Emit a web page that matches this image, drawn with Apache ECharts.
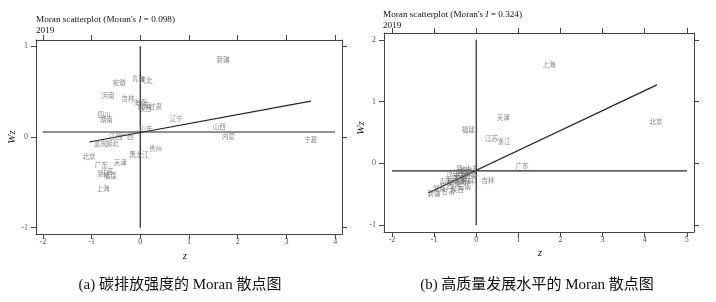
<!DOCTYPE html>
<html>
<head>
<meta charset="utf-8">
<script src="https://cdn.jsdelivr.net/npm/echarts@6/dist/echarts.min.js"></script>
<style>html,body{margin:0;padding:0;background:#fff}#c{width:716px;height:302px}</style>
</head>
<body>
<div id="c"></div>
<script>
// ---- Panel (a): carbon emission intensity ----
const namesA = ['新疆','青海','河北','安徽','河南','吉林','海南','云南','甘肃','陕西','四川','湖南','辽宁','山东','山西','内蒙','宁夏','江西','广西','重庆','湖北','北京','广东','天津','黑龙江','贵州','浙江','江苏','福建','上海'];
const zA  = [1.70,-0.04,0.12,-0.43,-0.66,-0.25,0.00,0.07,0.31,0.10,-0.74,-0.70,0.74,0.12,1.62,1.81,3.50,-0.51,-0.27,-0.82,-0.58,-1.05,-0.80,-0.41,-0.02,0.31,-0.76,-0.68,-0.62,-0.76];
const wzA = [0.85,0.65,0.62,0.60,0.46,0.42,0.38,0.35,0.34,0.31,0.25,0.19,0.20,0.09,0.11,0.00,-0.03,0.01,0.01,-0.07,-0.07,-0.22,-0.30,-0.28,-0.19,-0.13,-0.40,-0.38,-0.43,-0.57];
const meanLineA = [[-2,0.055],[4,0.055]];
const zeroLineA = [[0,-1],[0,1]];
const regLineA  = [[-1.05,-0.055],[3.5,0.395]];
const ticksXA = [-2,-1,0,1,2,3,4];
const ticksYA = [-1,0,1];
const rangeXA = [-2.14,4.14];
const rangeYA = [-1.07,1.07];

// ---- Panel (b): high-quality development level ----
const namesB = ['上海','北京','天津','福建','江苏','浙江','广东','吉林','山东','青海','新疆','甘肃','陕西','云南','贵州','宁夏','河北','山西','内蒙','辽宁','黑龙江','安徽','江西','河南','湖北','湖南','广西','海南','重庆','四川'];
const zB  = [1.73,4.27,0.64,-0.19,0.36,0.66,1.09,0.28,-0.10,-0.73,-1.00,-0.66,-0.45,-0.28,-0.22,-0.35,-0.30,-0.45,-0.15,-0.55,-0.20,-0.38,-0.60,-0.52,-0.25,-0.88,-0.70,-0.40,-0.12,-0.32];
const wzB = [1.60,0.68,0.75,0.55,0.41,0.35,-0.03,-0.27,-0.08,-0.29,-0.48,-0.45,-0.42,-0.37,-0.30,-0.25,-0.15,-0.14,-0.20,-0.20,-0.26,-0.20,-0.26,-0.32,-0.12,-0.40,-0.36,-0.30,-0.15,-0.09];
const meanLineB = [[-2,-0.12],[5,-0.12]];
const zeroLineB = [[0,-1],[0,2]];
const regLineB  = [[-1.14,-0.48],[4.29,1.27]];
const ticksXB = [-2,-1,0,1,2,3,4,5];
const ticksYB = [-1,0,1,2];
const rangeXB = [-2.19,5.17];
const rangeYB = [-1.11,2.11];

const serif = "'Liberation Serif','DejaVu Serif','Noto Sans CJK SC',serif";
const axisCol = '#444';

function xAx(grid, range, ticks, pos) {
  return {
    type:'value', gridIndex:grid, position:pos, min:range[0], max:range[1],
    axisLine:{show:true, onZero:false, lineStyle:{color:axisCol, width:1}},
    axisTick:{show:true, inside:false, length:5, customValues:ticks, lineStyle:{color:axisCol}},
    axisLabel:{show:pos==='bottom', customValues:ticks, fontSize:8, color:'#555', margin:4, fontFamily:serif},
    splitLine:{show:false}
  };
}
function yAx(grid, range, ticks, pos) {
  return {
    type:'value', gridIndex:grid, position:pos, min:range[0], max:range[1],
    axisLine:{show:true, onZero:false, lineStyle:{color:axisCol, width:1}},
    axisTick:{show:true, inside:false, length:5, customValues:ticks, lineStyle:{color:axisCol}},
    axisLabel:{show:pos==='left', customValues:ticks, fontSize:8, color:'#555', margin:8, fontFamily:serif},
    splitLine:{show:false}
  };
}
function pts(names, z, wz) {
  return names.map((n,i)=>({name:n, value:[z[i], wz[i]]}));
}
function labelSeries(idx, names, z, wz) {
  return {
    type:'scatter', xAxisIndex:idx, yAxisIndex:idx, symbolSize:1,
    itemStyle:{color:'rgba(0,0,0,0)'}, data:pts(names,z,wz), z:5,
    label:{show:true, position:'inside', formatter:'{b}', fontSize:6.5, color:'#6a6a6a',
           fontFamily:"'Noto Sans CJK SC',sans-serif"},
    labelLayout:{hideOverlap:false}
  };
}
function lineSeries(idx, data) {
  return {type:'line', xAxisIndex:idx, yAxisIndex:idx, data:data, symbol:'none',
          lineStyle:{color:'#222', width:1.2}, z:3};
}

const chart = echarts.init(document.getElementById('c'), null, {renderer:'canvas'});
chart.setOption({
  animation:false,
  backgroundColor:'#fff',
  title:[
    {text:"Moran scatterplot (Moran's {i|I} = 0.098)\n2019", left:36, top:14, padding:0,
     textStyle:{fontSize:9.2, fontWeight:'normal', color:'#111', fontFamily:serif, lineHeight:11,
       rich:{i:{fontStyle:'italic', fontSize:9.2, fontFamily:serif, color:'#111'}}}},
    {text:"Moran scatterplot (Moran's {i|I} = 0.324)\n2019", left:383, top:9, padding:0,
     textStyle:{fontSize:9.2, fontWeight:'normal', color:'#111', fontFamily:serif, lineHeight:11,
       rich:{i:{fontStyle:'italic', fontSize:9.2, fontFamily:serif, color:'#111'}}}}
  ],
  grid:[
    {left:36, top:40, width:306, height:194},
    {left:384, top:33, width:310, height:199}
  ],
  xAxis:[
    xAx(0, rangeXA, ticksXA, 'bottom'), xAx(1, rangeXB, ticksXB, 'bottom'),
    xAx(0, rangeXA, ticksXA, 'top'), xAx(1, rangeXB, ticksXB, 'top')
  ],
  yAxis:[
    yAx(0, rangeYA, ticksYA, 'left'), yAx(1, rangeYB, ticksYB, 'left'),
    yAx(0, rangeYA, ticksYA, 'right'), yAx(1, rangeYB, ticksYB, 'right')
  ],
  series:[
    lineSeries(0, meanLineA), lineSeries(0, zeroLineA), lineSeries(0, regLineA),
    labelSeries(0, namesA, zA, wzA),
    lineSeries(1, meanLineB), lineSeries(1, zeroLineB), lineSeries(1, regLineB),
    labelSeries(1, namesB, zB, wzB)
  ],
  graphic:[
    {type:'text', x:185, y:256, style:{text:'z', fontSize:11, fontStyle:'italic', fontFamily:serif, fill:'#222', textAlign:'center', textVerticalAlign:'middle'}},
    {type:'text', x:540, y:253, style:{text:'z', fontSize:11, fontStyle:'italic', fontFamily:serif, fill:'#222', textAlign:'center', textVerticalAlign:'middle'}},
    {type:'text', x:12, y:137, rotation:Math.PI/2, style:{text:'Wz', fontSize:11, fontStyle:'italic', fontFamily:serif, fill:'#222', textAlign:'center', textVerticalAlign:'middle'}},
    {type:'text', x:361, y:128, rotation:Math.PI/2, style:{text:'Wz', fontSize:11, fontStyle:'italic', fontFamily:serif, fill:'#222', textAlign:'center', textVerticalAlign:'middle'}},
    {type:'text', x:180, y:285, style:{text:'(a) 碳排放强度的 Moran 散点图', fontSize:15, fontFamily:serif, fill:'#111', textAlign:'center', textVerticalAlign:'middle'}},
    {type:'text', x:537, y:285, style:{text:'(b) 高质量发展水平的 Moran 散点图', fontSize:15, fontFamily:serif, fill:'#111', textAlign:'center', textVerticalAlign:'middle'}}
  ]
});
</script>
</body>
</html>
